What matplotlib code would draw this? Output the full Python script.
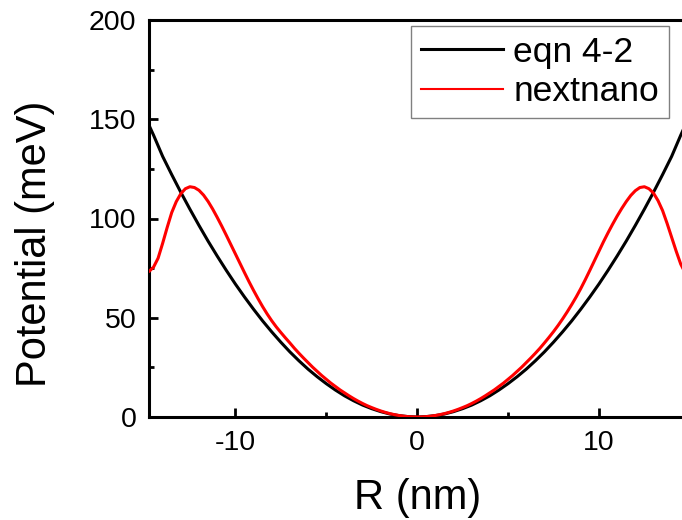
import numpy as np
import matplotlib
matplotlib.use("Agg")
import matplotlib.pyplot as plt
from matplotlib.ticker import MultipleLocator

plt.rcParams['font.family'] = ['Liberation Sans', 'DejaVu Sans']
plt.rcParams['axes.unicode_minus'] = False

# radial position grids (nm)
r_eqn = np.arange(-15.0, 15.0 + 0.25, 0.5)
r_next = np.arange(-15.0, 15.0 + 0.125, 0.25)

# analytic model potential, eqn 4-2 (meV)
v_eqn = [152.0, 142.0, 131.3, 122.1, 113.2, 104.7, 96.5, 88.6, 81.1, 73.9,
         67.0, 60.5, 54.3, 48.4, 42.9, 37.7, 32.8, 28.3, 24.1, 20.3,
         16.8, 13.6, 10.7, 8.2, 6.0, 4.2, 2.7, 1.5, 0.7, 0.2,
         0.0,
         0.2, 0.7, 1.5, 2.7, 4.2, 6.0, 8.2, 10.7, 13.6,
         16.8, 20.3, 24.1, 28.3, 32.8, 37.7, 42.9, 48.4, 54.3, 60.5,
         67.0, 73.9, 81.1, 88.6, 96.5, 104.7, 113.2, 122.1, 131.3, 142.0, 152.0]

# self-consistent nextnano potential (meV)
v_nextnano = [
    73.0, 73.3, 75.5, 80.0, 87.5, 95.5, 103.0, 108.5, 112.5, 115.0,
    116.0, 115.6, 114.2, 111.8, 108.6, 104.8, 100.6, 96.2, 91.6, 86.9,
    82.2, 77.5, 72.8, 68.2, 63.8, 59.6, 55.6, 51.9, 48.5, 45.4,
    42.6, 39.9, 37.3, 34.6, 32.1, 29.7, 27.4, 25.1, 23.0, 20.9,
    19.0, 17.1, 15.4, 13.7, 12.2, 10.7, 9.3, 8.0, 6.8, 5.7,
    4.75, 3.85, 3.04, 2.33, 1.71, 1.19, 0.76, 0.43, 0.19, 0.05,
    0.0,
    0.05, 0.19, 0.43, 0.76, 1.19, 1.71, 2.33, 3.04, 3.85, 4.75,
    5.7, 6.8, 8.0, 9.3, 10.7, 12.2, 13.7, 15.4, 17.1, 19.0,
    20.9, 23.0, 25.1, 27.4, 29.7, 32.1, 34.6, 37.3, 40.1, 43.0,
    46.1, 49.4, 52.9, 56.6, 60.5, 64.7, 69.2, 73.9, 78.7, 83.5,
    88.3, 92.8, 97.1, 101.2, 105.0, 108.5, 111.6, 114.0, 115.6, 116.0,
    115.0, 112.8, 109.0, 104.0, 97.5, 90.5, 83.5, 77.0, 72.5, 70.0]

fig = plt.figure(figsize=(6.82, 5.20), dpi=100)
ax = fig.add_axes([149 / 682, 103 / 520, 536.3 / 682, 397 / 520])

ax.plot(r_eqn, v_eqn, color='black', lw=2.2, label='eqn 4-2', zorder=2)
ax.plot(r_next, v_nextnano, color='#ff0000', lw=2.2, label='nextnano', zorder=3)

ax.set_xlim(-14.75, 14.75)
ax.set_ylim(0, 200)

ax.xaxis.set_major_locator(MultipleLocator(10))
ax.xaxis.set_minor_locator(MultipleLocator(5))
ax.yaxis.set_major_locator(MultipleLocator(50))
ax.yaxis.set_minor_locator(MultipleLocator(25))

ax.tick_params(which='both', direction='in', width=2.0, top=False, right=False,
               labelsize=20.5, colors='black')
ax.tick_params(which='major', length=6.5)
ax.tick_params(which='minor', length=3.6)
ax.tick_params(axis='x', which='major', pad=9)
ax.tick_params(axis='y', which='major', pad=9)

for side in ['left', 'bottom', 'top', 'right']:
    ax.spines[side].set_linewidth(2.2)

ax.set_xlabel('R (nm)', fontsize=30, labelpad=16)
ax.set_ylabel('Potential (meV)', fontsize=30)
ax.yaxis.set_label_coords(-0.175, 0.435)

leg = ax.legend(loc='upper right', bbox_to_anchor=(0.9696, 0.985), borderaxespad=0,
                fontsize=25.5, frameon=True, fancybox=False, framealpha=1,
                edgecolor='#808080', handlelength=2.3, handletextpad=0.3,
                labelspacing=0.18, borderpad=0.28)
leg.get_frame().set_linewidth(1.0)
leg.get_lines()[0].set_linewidth(2.2)
leg.get_lines()[1].set_linewidth(1.5)

fig.savefig('out.png', dpi=100)
